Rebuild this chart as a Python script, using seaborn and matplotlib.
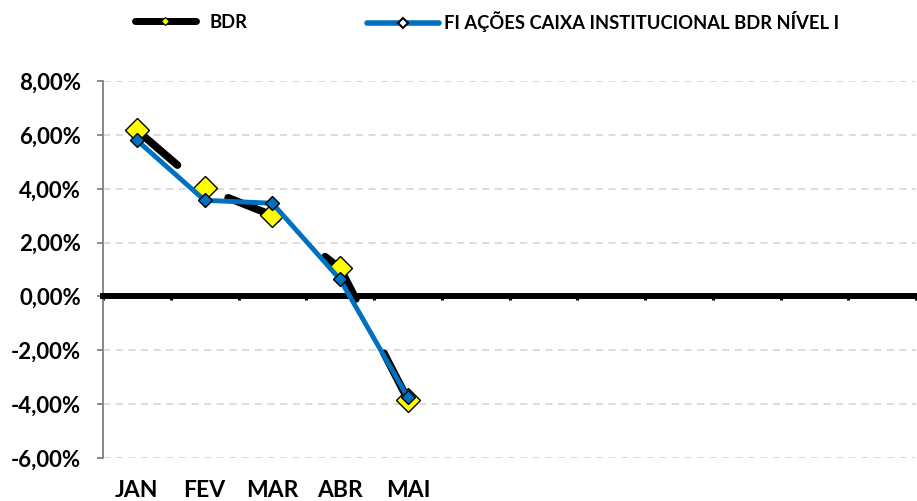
import matplotlib
matplotlib.use('Agg')
import matplotlib.pyplot as plt
import seaborn as sns
import pandas as pd
from matplotlib.lines import Line2D
from matplotlib.ticker import FuncFormatter

# data (monthly returns, %)
months = ['JAN', 'FEV', 'MAR', 'ABR', 'MAI']
bdr = [6.17, 4.01, 3.01, 1.04, -3.83]
fi_caixa = [5.80, 3.57, 3.46, 0.63, -3.75]
n_slots = 12
yticks = [-6, -4, -2, 0, 2, 4, 6, 8]
labels = ['BDR', 'FI AÇÕES CAIXA INSTITUCIONAL BDR NÍVEL I']

sns.set_theme(style='white')
plt.rcParams['font.family'] = ['Lato', 'DejaVu Sans']
plt.rcParams['font.weight'] = 'bold'
plt.rcParams['text.color'] = 'black'
plt.rcParams['ytick.labelcolor'] = 'black'

fig = plt.figure(figsize=(9.17, 5.01), dpi=100)
ax = fig.add_axes([103 / 917, 43 / 501, 813 / 917, 377 / 501])

df = pd.DataFrame({'pos': range(len(months)), 'BDR': bdr, 'FI': fi_caixa})

sns.lineplot(data=df, x='pos', y='BDR', ax=ax, color='black', lw=5.5,
             marker='D', markersize=12.5, markerfacecolor='#FFFF00',
             markeredgecolor='black', markeredgewidth=1, zorder=3)
sns.lineplot(data=df, x='pos', y='FI', ax=ax, color='#0070C0', lw=3.5,
             marker='D', markersize=7.5, markerfacecolor='#0070C0',
             markeredgecolor='black', markeredgewidth=1, zorder=4)
# the black series only peeks out from behind the blue one
ax.lines[0].set_linestyle((0, (7, 8)))
ax.lines[0].set_dash_capstyle('round')

ax.set_xlim(-0.5, n_slots - 0.5)
ax.set_ylim(-6, 8)
ax.set_yticks(yticks)
ax.yaxis.set_major_formatter(FuncFormatter(lambda v, p: f'{v:.2f}'.replace('.', ',') + '%'))
ax.set_xticks([i - 0.5 for i in range(n_slots + 1)])
ax.set_xticklabels([])
ax.set_xlabel('')
ax.set_ylabel('')

ax.yaxis.grid(True, color='#d9d9d9', linestyle=(0, (4, 3)), lw=1.3)
ax.spines['top'].set_visible(False)
ax.spines['right'].set_visible(False)
ax.spines['left'].set_color('#808080')
ax.spines['left'].set_linewidth(1.3)
ax.spines['bottom'].set_position(('data', 0))
ax.spines['bottom'].set_color('black')
ax.spines['bottom'].set_linewidth(4.3)
ax.tick_params(axis='y', direction='out', length=4, width=1.3, color='#808080',
               labelsize=16, pad=12, left=True)
ax.tick_params(axis='x', direction='out', length=3, width=2.2, color='black', bottom=True)

for i, m in enumerate(months):
    ax.text(i, -0.104, m, transform=ax.get_xaxis_transform(), ha='center',
            va='baseline', fontsize=16.5, fontweight='bold')

leg_font = {'weight': 'bold', 'size': 13.2}
h_bdr = Line2D([], [], color='black', lw=5, solid_capstyle='round', marker='D', ms=4.5,
               markerfacecolor='#FFFF00', markeredgecolor='black', markeredgewidth=0.8)
h_fi = Line2D([], [], color='#0070C0', lw=4, solid_capstyle='round', marker='D', ms=5,
              markerfacecolor='white', markeredgecolor='black', markeredgewidth=1.5)
leg1 = fig.legend([h_bdr], labels[:1], loc='center left', bbox_to_anchor=(135 / 917, 1 - 22 / 501),
                  frameon=False, prop=leg_font, handlelength=3.3, handletextpad=0.75,
                  borderpad=0, borderaxespad=0)
fig.legend([h_fi], labels[1:], loc='center left', bbox_to_anchor=(367 / 917, 1 - 22 / 501),
           frameon=False, prop=leg_font, handlelength=3.9, handletextpad=0.3,
           borderpad=0, borderaxespad=0)

fig.savefig('out.png', dpi=100)
